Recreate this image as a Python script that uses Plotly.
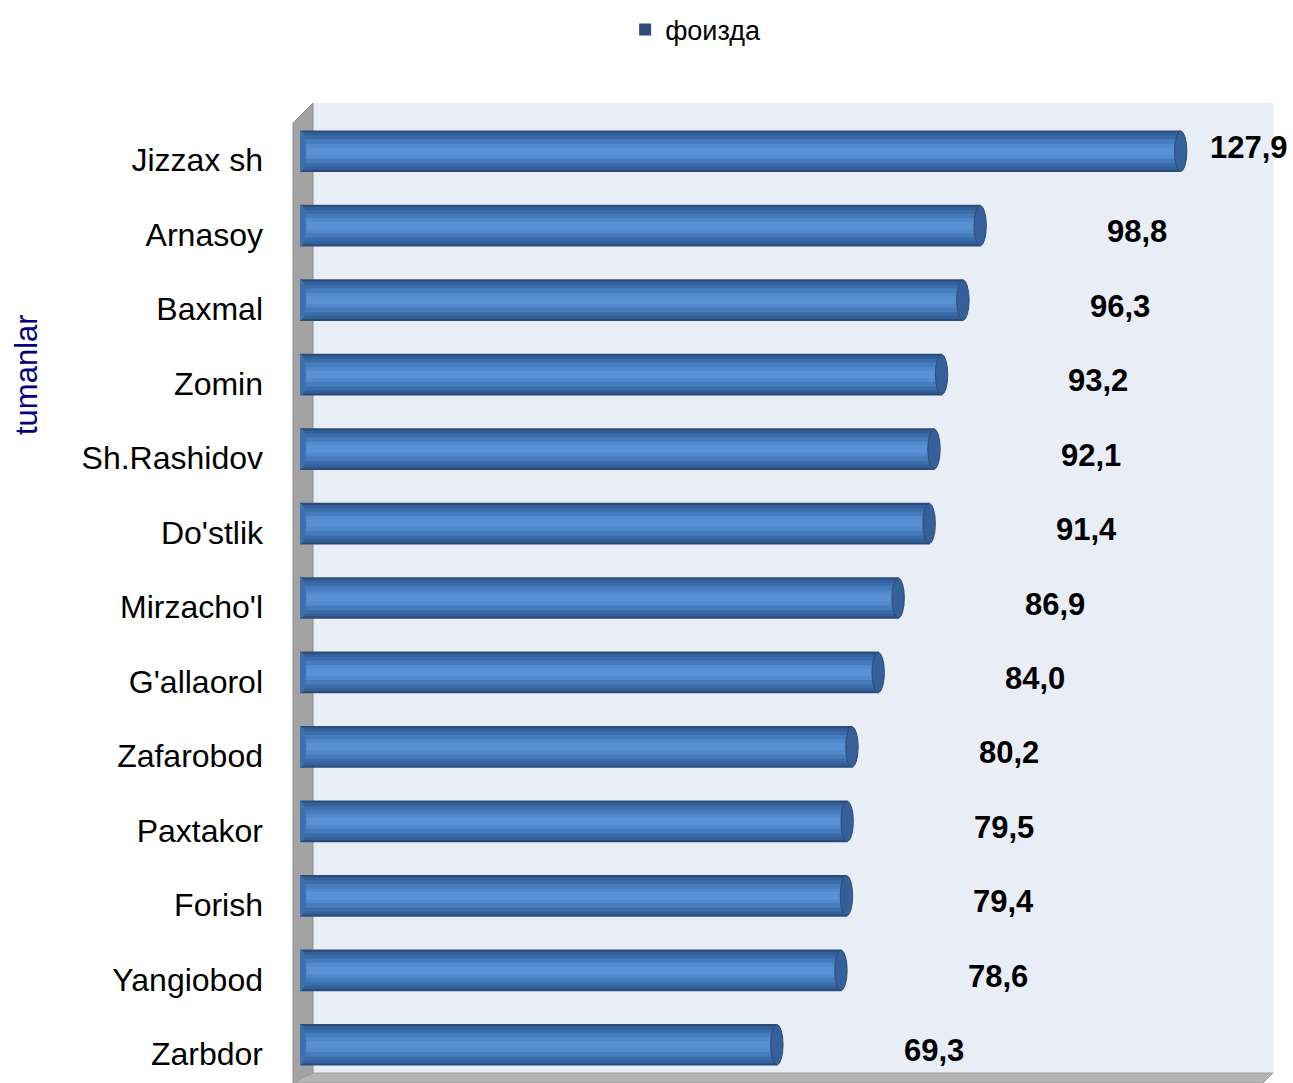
import plotly.graph_objects as go

categories = ["Jizzax sh", "Arnasoy", "Baxmal", "Zomin", "Sh.Rashidov", "Do'stlik",
              "Mirzacho'l", "G'allaorol", "Zafarobod", "Paxtakor", "Forish",
              "Yangiobod", "Zarbdor"]
values = [127.9, 98.8, 96.3, 93.2, 92.1, 91.4, 86.9, 84.0, 80.2, 79.5, 79.4, 78.6, 69.3]
value_labels = ["127,9", "98,8", "96,3", "93,2", "92,1", "91,4", "86,9", "84,0",
                "80,2", "79,5", "79,4", "78,6", "69,3"]
series_name = "фоизда"
axis_title = "tumanlar"

W, H = 1293, 1083
ML, MR, MT, MB = 300, 20, 114, 1
PW, PH = W - ML - MR, H - MT - MB
XMAX = 141.2


def px(x):
    return (x - ML) / PW


def py(y):
    return (H - MB - y) / PH


fig = go.Figure()

layers = [(0.56, "#2B4D7C"), (0.50, "#336099"), (0.42, "#3B6CA9"),
          (0.32, "#467BBD"), (0.20, "#5389CC"), (0.10, "#5A91D5")]
for i, (w, c) in enumerate(layers):
    fig.add_trace(go.Bar(
        y=categories, x=values, orientation="h", width=w,
        marker=dict(color=c, line=dict(width=0)),
        name=series_name, showlegend=(i == 0),
        hoverinfo="skip" if i else None,
    ))

shapes = []
# back wall
shapes.append(dict(type="rect", xref="paper", yref="paper", layer="below",
                   x0=px(313), x1=px(1273), y0=py(1073), y1=py(103),
                   fillcolor="#E9EDF6", line=dict(width=0)))
# left side wall
shapes.append(dict(type="path", xref="paper", yref="paper", layer="below",
                   path=f"M {px(293)} {py(123)} L {px(313)} {py(103)} L {px(313)} {py(1073)} L {px(293)} {py(1083)} Z",
                   fillcolor="#A3A3A3", line=dict(color="#8C8C8C", width=1)))
# floor
shapes.append(dict(type="path", xref="paper", yref="paper", layer="below",
                   path=f"M {px(293)} {py(1083)} L {px(313)} {py(1073)} L {px(1273)} {py(1073)} L {px(1263)} {py(1083)} Z",
                   fillcolor="#B4B4B4", line=dict(color="#9E9E9E", width=1)))
# bar end caps and rounded starts
for idx, v in enumerate(values):
    shapes.append(dict(type="circle", xref="x", yref="y", layer="above",
                       x0=v - 1.0, x1=v + 0.8, y0=idx - 0.27, y1=idx + 0.27,
                       fillcolor="#35609A", line=dict(color="#2A4C7A", width=1)))
    shapes.append(dict(type="circle", xref="x", yref="y", layer="above",
                       x0=-0.6, x1=0.9, y0=idx - 0.27, y1=idx + 0.27,
                       fillcolor="#3F70AE", line=dict(width=0)))

annotations = []
for idx, (v, t) in enumerate(zip(values, value_labels)):
    annotations.append(dict(x=min(v + 18.0, 131.8), y=idx, xref="x", yref="y",
                            text=t, showarrow=False, xanchor="left",
                            yshift=4 if idx == 0 else -6,
                            font=dict(family="Liberation Sans, Arial, sans-serif",
                                      size=31, color="#000000", weight="bold")))
annotations.append(dict(x=px(27), y=py(375), xref="paper", yref="paper",
                        xanchor="center", yanchor="middle",
                        text=axis_title, textangle=-90, showarrow=False,
                        font=dict(family="Liberation Sans, Arial, sans-serif",
                                  size=31, color="#000080")))

fig.update_layout(
    width=W, height=H,
    margin=dict(l=ML, r=MR, t=MT, b=MB, pad=0),
    barmode="overlay",
    paper_bgcolor="white", plot_bgcolor="rgba(0,0,0,0)",
    shapes=shapes, annotations=annotations,
    showlegend=True,
    legend=dict(orientation="h", x=0.538, xref="container", xanchor="center",
                y=1 - 30 / H, yref="container", yanchor="middle",
                font=dict(family="Liberation Sans, Arial, sans-serif", size=27, color="#000000"),
                itemwidth=30, bgcolor="rgba(0,0,0,0)"),
    xaxis=dict(range=[0, XMAX], visible=False, showgrid=False, zeroline=False),
    yaxis=dict(categoryorder="array", categoryarray=categories, autorange="reversed",
               showgrid=False, zeroline=False, showline=False, ticks="",
               ticklabelstandoff=36, ticklabelshift=-9,
               tickfont=dict(family="Liberation Sans, Arial, sans-serif",
                             size=32, color="#000000")),
)

fig.write_html("out.html", config={"displayModeBar": False},
               post_script="document.body.style.margin='0px';")
